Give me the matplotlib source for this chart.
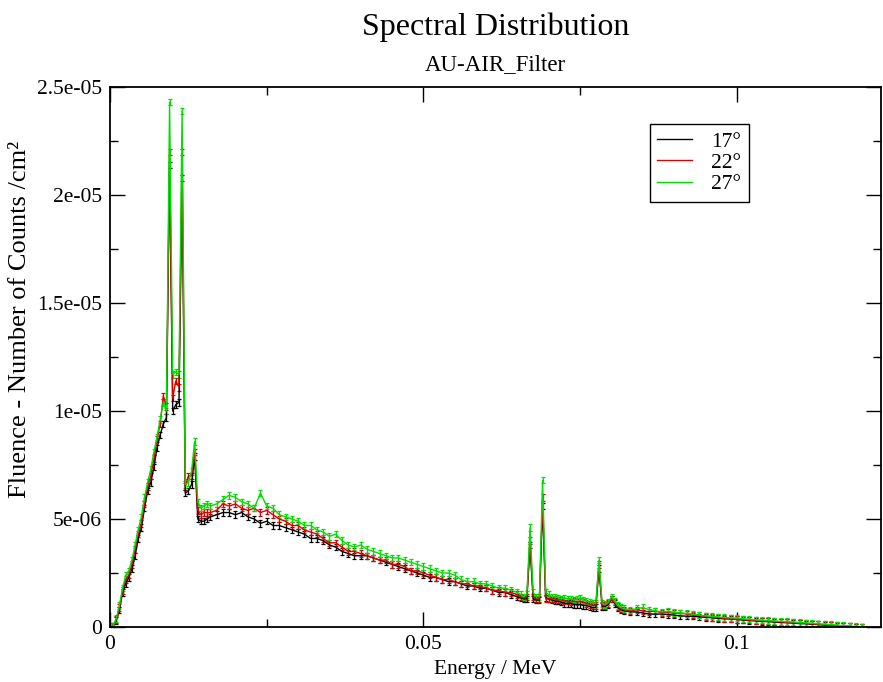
import numpy as np
import matplotlib.pyplot as plt
from matplotlib import ticker
from matplotlib.lines import Line2D

plt.rcParams['font.family'] = ['Liberation Serif', 'DejaVu Serif']

# bin energies in keV (finer bins around the characteristic lines)
energy_kev = np.concatenate([
    np.arange(0.0, 16.0, 0.5),
    np.arange(16.0, 65.5, 1.0),
    np.arange(65.5, 82.5, 0.5),
    np.arange(83.0, 120.5, 1.0),
])

# fluence values in units of 1e-6 counts/cm^2
fl_17 = [
    0, 0.03, 0.3, 0.8, 1.6, 2.0, 2.3, 2.7, 3.3, 4.1, 4.6, 5.5, 6.3, 6.7, 7.4, 8.3,
    8.9, 9.4, 9.7, 21.4, 10.0, 10.3, 10.4, 20.8, 6.2, 6.3, 6.6, 7.9, 5.0, 4.9, 4.9, 5.0,
    5.1, 5.2, 5.3, 5.3, 5.2, 5.3, 5.1, 5.0, 4.8, 4.9, 4.7, 4.7, 4.6, 4.5, 4.4, 4.3,
    4.1, 4.1, 4.0, 3.8, 3.7, 3.5, 3.4, 3.3, 3.3, 3.3, 3.2, 3.1, 3.0, 2.9, 2.8, 2.7,
    2.6, 2.5, 2.4, 2.3, 2.3, 2.2, 2.1, 2.1, 2.0, 1.9, 1.9, 1.8, 1.8, 1.7, 1.6, 1.6,
    1.5, 1.4,
    1.35, 1.3, 1.3, 3.8, 1.3, 1.25, 1.25, 5.6, 1.35, 1.3, 1.25, 1.2, 1.2, 1.15, 1.1, 1.1,
    1.1, 1.05, 1.05, 1.05, 1.0, 1.0, 0.95, 0.9, 0.9, 2.7, 0.95, 0.95, 1.05, 1.3, 1.1, 0.9,
    0.8, 0.75,
    0.7, 0.7, 0.65, 0.6, 0.6, 0.6, 0.58, 0.55, 0.52, 0.5, 0.5, 0.47, 0.45, 0.43, 0.4, 0.38,
    0.37, 0.35, 0.32, 0.3, 0.28, 0.26, 0.25, 0.23, 0.21, 0.2, 0.18, 0.16, 0.15, 0.13, 0.11, 0.09,
    0.07, 0.05, 0.04, 0.02, 0.01, 0.0,
]
fl_22 = [
    0, 0.04, 0.35, 0.9, 1.7, 2.2, 2.4, 2.9, 3.6, 4.3, 4.8, 5.7, 6.5, 7.0, 7.8, 8.7,
    9.4, 10.7, 10.2, 22.0, 10.6, 11.4, 11.1, 22.0, 6.5, 7.0, 7.0, 8.1, 5.4, 5.2, 5.3, 5.3,
    5.3, 5.4, 5.7, 5.6, 5.7, 5.5, 5.4, 5.5, 5.3, 5.4, 5.2, 5.0, 4.9, 4.7, 4.7, 4.5,
    4.4, 4.3, 4.1, 3.9, 3.9, 3.7, 3.5, 3.5, 3.4, 3.3, 3.2, 3.1, 3.1, 2.9, 2.9, 2.8,
    2.6, 2.6, 2.5, 2.4, 2.3, 2.2, 2.2, 2.1, 2.0, 2.0, 1.9, 1.9, 1.8, 1.7, 1.7, 1.6,
    1.6, 1.5,
    1.4, 1.35, 1.4, 4.0, 1.4, 1.3, 1.3, 6.0, 1.3, 1.3, 1.3, 1.3, 1.25, 1.25, 1.2, 1.2,
    1.15, 1.2, 1.15, 1.2, 1.15, 1.1, 1.05, 1.0, 1.0, 2.9, 1.0, 1.0, 1.1, 1.3, 1.15, 0.95,
    0.85, 0.8,
    0.75, 0.8, 0.75, 0.7, 0.75, 0.65, 0.68, 0.63, 0.64, 0.6, 0.55, 0.55, 0.48, 0.45, 0.44, 0.4,
    0.4, 0.35, 0.34, 0.32, 0.3, 0.28, 0.27, 0.25, 0.24, 0.22, 0.2, 0.18, 0.17, 0.15, 0.13, 0.11,
    0.09, 0.07, 0.05, 0.03, 0.01, 0.0,
]
fl_27 = [
    0, 0.05, 0.4, 1.0, 1.8, 2.4, 2.6, 3.1, 3.8, 4.5, 5.1, 6.0, 6.7, 7.3, 8.1, 8.8,
    9.6, 10.4, 10.0, 24.3, 11.7, 11.8, 11.7, 23.9, 6.6, 6.7, 7.2, 8.6, 5.8, 5.5, 5.6, 5.7,
    5.6, 5.7, 5.9, 6.1, 6.0, 5.8, 5.7, 5.5, 6.2, 5.6, 5.5, 5.2, 5.1, 5.0, 4.9, 4.7,
    4.7, 4.5, 4.4, 4.2, 4.3, 4.0, 3.8, 3.7, 3.8, 3.6, 3.5, 3.4, 3.3, 3.2, 3.2, 3.1,
    3.0, 2.9, 2.8, 2.7, 2.6, 2.5, 2.5, 2.4, 2.2, 2.1, 2.1, 2.0, 2.0, 1.9, 1.8, 1.8,
    1.7, 1.6,
    1.5, 1.4, 1.5, 4.6, 1.6, 1.4, 1.4, 6.8, 1.6, 1.5, 1.4, 1.4, 1.35, 1.3, 1.35, 1.3,
    1.3, 1.25, 1.3, 1.35, 1.25, 1.2, 1.15, 1.1, 1.1, 3.1, 1.1, 1.05, 1.15, 1.4, 1.2, 1.0,
    0.9, 0.85,
    0.8, 0.85, 0.9, 0.8, 0.75, 0.7, 0.72, 0.68, 0.65, 0.63, 0.6, 0.55, 0.52, 0.5, 0.46, 0.45,
    0.42, 0.42, 0.38, 0.36, 0.33, 0.32, 0.3, 0.28, 0.26, 0.25, 0.23, 0.21, 0.19, 0.17, 0.15, 0.13,
    0.11, 0.09, 0.06, 0.04, 0.02, 0.0,
]
err_half = 0.15  # error bar half-height, same units

series = [('17°', fl_17, '#000000'), ('22°', fl_22, '#dd0000'), ('27°', fl_27, '#00dd00')]

fig = plt.figure(figsize=(8.83, 6.82), dpi=100)
ax = fig.add_axes([0.1246, 0.0806, 0.8732, 0.7918])

e_mev = energy_kev / 1000.0
handles = []
for lab, vals, col in series:
    y = np.array(vals) * 1e-6
    ax.errorbar(e_mev, y, yerr=err_half * 1e-6, color=col, lw=1.0,
                elinewidth=0.9, capsize=1.5, capthick=0.9)
    handles.append(Line2D([], [], color=col, lw=1.0, label=lab))

ax.set_xlim(0, 0.123)
ax.set_ylim(0, 2.5e-05)
ax.xaxis.set_major_locator(ticker.MultipleLocator(0.05))
ax.xaxis.set_minor_locator(ticker.MultipleLocator(0.025))
ax.yaxis.set_major_locator(ticker.MultipleLocator(5e-06))
ax.yaxis.set_minor_locator(ticker.MultipleLocator(2.5e-06))
fmt = ticker.FuncFormatter(lambda v, p: '%g' % v)
ax.xaxis.set_major_formatter(fmt)
ax.yaxis.set_major_formatter(fmt)
ax.tick_params(which='both', direction='in', top=True, right=True, labelsize=15.5, width=1.0)
ax.tick_params(which='major', length=11, pad=6)
ax.tick_params(which='minor', length=6)
for s in ax.spines.values():
    s.set_linewidth(1.3)

ax.set_xlabel('Energy / MeV', fontsize=15.5, labelpad=4)
ax.set_ylabel('Fluence - Number of Counts /cm²', fontsize=19)
ax.yaxis.set_label_coords(-0.103, 0.57)

fig.text(0.5612, 0.9487, 'Spectral Distribution', ha='center', va='baseline', fontsize=23)
fig.text(0.5612, 0.8974, 'AU-AIR_Filter', ha='center', va='baseline', fontsize=16.5)

leg = ax.legend(handles=handles, loc='upper left', bbox_to_anchor=(0.70, 0.931), fontsize=15.5,
                frameon=True, fancybox=False, edgecolor='black', framealpha=1,
                handlelength=1.6, handletextpad=0.9, borderpad=0.35, labelspacing=0.05,
                borderaxespad=0)
leg.get_frame().set_linewidth(1.0)

fig.savefig('out.png', dpi=100)
